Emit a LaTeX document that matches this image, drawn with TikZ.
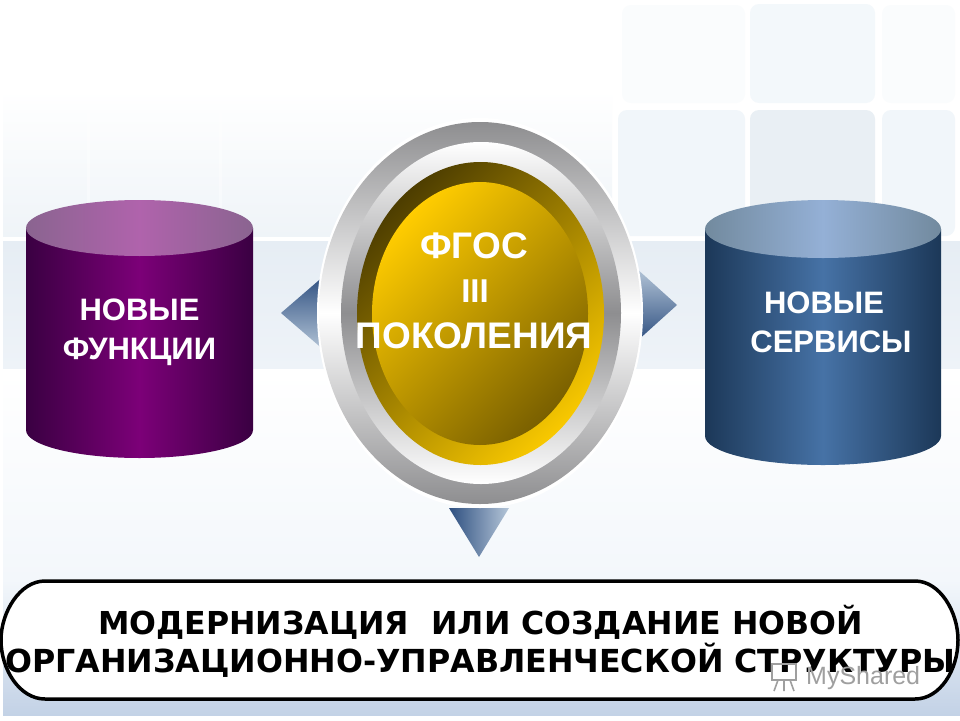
\documentclass[tikz,border=0pt]{standalone}
\usepackage{fontspec}
\setmainfont{Liberation Sans}
\newfontfamily\widefont{DejaVu Sans}
\definecolor{tileA}{HTML}{F3F8FB}
\definecolor{tileB}{HTML}{E9EFF4}
\definecolor{tileC}{HTML}{F1F6FA}
\definecolor{bandT}{HTML}{E6EDF4}
\definecolor{bandB}{HTML}{EEF3F8}
\definecolor{bottomM}{HTML}{F3F7FB}
\definecolor{bottomB}{HTML}{C3D2E6}
\definecolor{upperB}{HTML}{EFF4F8}
\definecolor{arrD}{HTML}{2E4F80}
\definecolor{arrL}{HTML}{B5C6D8}
\definecolor{silver}{HTML}{8E8E90}
\definecolor{goldD}{HTML}{4E3E00}
\definecolor{goldL}{HTML}{F8C800}
\definecolor{goldM}{HTML}{FFCC00}
\definecolor{goldE}{HTML}{7A6000}
\definecolor{pS}{HTML}{3A0042}
\definecolor{pM}{HTML}{7C0078}
\definecolor{pE}{HTML}{8A6490}
\definecolor{pT}{HTML}{B063AC}
\definecolor{bS}{HTML}{1C3858}
\definecolor{bM}{HTML}{4672A6}
\definecolor{bE}{HTML}{728A9E}
\definecolor{bT}{HTML}{94B0D6}
\tikzset{
  x=1pt,y=-1pt,
  tile/.style={rounded corners=9pt,fill=#1},
  lbl/.style={font=\bfseries\fontsize{31}{36}\selectfont,text=white,align=center,inner sep=0pt,anchor=base},
  gos/.style={font=\bfseries\fontsize{37}{42}\selectfont,text=white,align=center,inner sep=0pt},
  barlbl/.style={font=\widefont\bfseries\fontsize{31.7}{38}\selectfont,text=black,inner sep=0pt,anchor=base west},
  gridline/.style={white,line width=3pt,opacity=.4},
}
\newcommand{\cyl}[9]{% xl xr ytop ybot ry sideL sideM topE topM
  \shade[left color=#6,right color=#6,middle color=#7]
    (#1,#3) -- (#1,#4) arc[start angle=180,end angle=360,x radius={(#2-#1)/2},y radius=-#5]
    -- (#2,#3) -- cycle;
  \shade[left color=#8,right color=#8,middle color=#9]
    ({(#1+#2)/2},#3) ellipse[x radius={(#2-#1)/2},y radius=#5];
}
\begin{document}
\begin{tikzpicture}
\useasboundingbox (0,0) rectangle (960,720);
\fill[white] (0,0) rectangle (960,720);
% background
\shade[top color=white,bottom color=bottomM] (3,372) rectangle (960,580);
\shade[top color=bottomM,bottom color=bottomB] (3,580) rectangle (960,715);
\shade[top color=bandT,bottom color=bandB] (3,241) rectangle (960,368);
\shade[top color=white,bottom color=upperB] (3,90) rectangle (612,236);
\draw[gridline] (88,110) -- (88,236) (220,110) -- (220,236);
\fill[tile=tileA] (750,4) rectangle (875,103);
\fill[tile=tileB] (750,110) rectangle (875,236);
\fill[tile=tileC] (618,110) rectangle (745,236);
\fill[tile=tileC] (882,110) rectangle (955,236);
\fill[tile=white!60!tileA] (622,5) rectangle (745,103);
\fill[tile=white!60!tileA] (882,5) rectangle (955,103);
% arrows
\shade[top color=arrD,bottom color=arrL] (281,313) -- (325,275) -- (325,351) -- cycle;
\shade[top color=arrL,bottom color=arrD] (677,305) -- (636,268) -- (636,342) -- cycle;
\shade[left color=arrD,right color=arrL] (449,508) -- (509,508) -- (479,557) -- cycle;
% central medallion
\fill[white] (480,313) ellipse[x radius=163,y radius=195];
\shade[top color=silver,bottom color=silver,middle color=white] (480,313) ellipse[x radius=161,y radius=191];
\shade[top color=white,bottom color=white,middle color=silver] (481,313) ellipse[x radius=140,y radius=171];
\shade[left color=goldD,right color=goldL,shading angle=45] (480.5,313.5) ellipse[x radius=123.5,y radius=151.5];
\shade[left color=goldM,right color=goldE,shading angle=45] (480,313.5) ellipse[x radius=108,y radius=131.5];
% cylinders
\cyl{26}{253}{228}{430}{28}{pS}{pM}{pE}{pT}
\cyl{705}{941}{229}{436}{29}{bS}{bM}{bE}{bT}
% cylinder labels
\node[lbl] (funcA) at (139.5,320) {НОВЫЕ};
\node[lbl] (funcB) at (139.5,359) {ФУНКЦИИ};
\node[lbl] (servA) at (824,313) {НОВЫЕ};
\node[lbl] (servB) at (831,352) {СЕРВИСЫ};
% centre labels
\node[gos] (gosA) at (474,246) {ФГОС};
\node[gos,font=\bfseries\fontsize{33}{38}\selectfont] (gosB) at (475,291) {III};
\node[gos] (gosC) at (474,336) {ПОКОЛЕНИЯ};
% bottom bar
\draw[line width=3.5pt,fill=white] (45,581) -- (915,581)
  .. controls (940,581) and (958,612) .. (958,640)
  .. controls (958,670) and (940,699) .. (915,699)
  -- (45,699)
  .. controls (20,699) and (1,670) .. (1,640)
  .. controls (1,612) and (20,581) .. (45,581) -- cycle;
\node[barlbl,font=\widefont\bfseries\fontsize{31.6}{38}\selectfont] (barA) at (98,634) {МОДЕРНИЗАЦИЯ\ \ ИЛИ СОЗДАНИЕ НОВОЙ};
\node[barlbl] (barB) at (5,672) {ОРГАНИЗАЦИОННО-УПРАВЛЕНЧЕСКОЙ СТРУКТУРЫ};
% watermark
\node[font=\fontsize{25}{28}\selectfont,text=gray!75,inner sep=0pt,anchor=base west] (mark) at (806,684) {MyShared};
\draw[gray!75,line width=1.6pt] (772,664) rectangle (796,680) (778,680) -- (774,691) (790,680) -- (794,691) (784,680) -- (784,691);
\end{tikzpicture}
\end{document}
